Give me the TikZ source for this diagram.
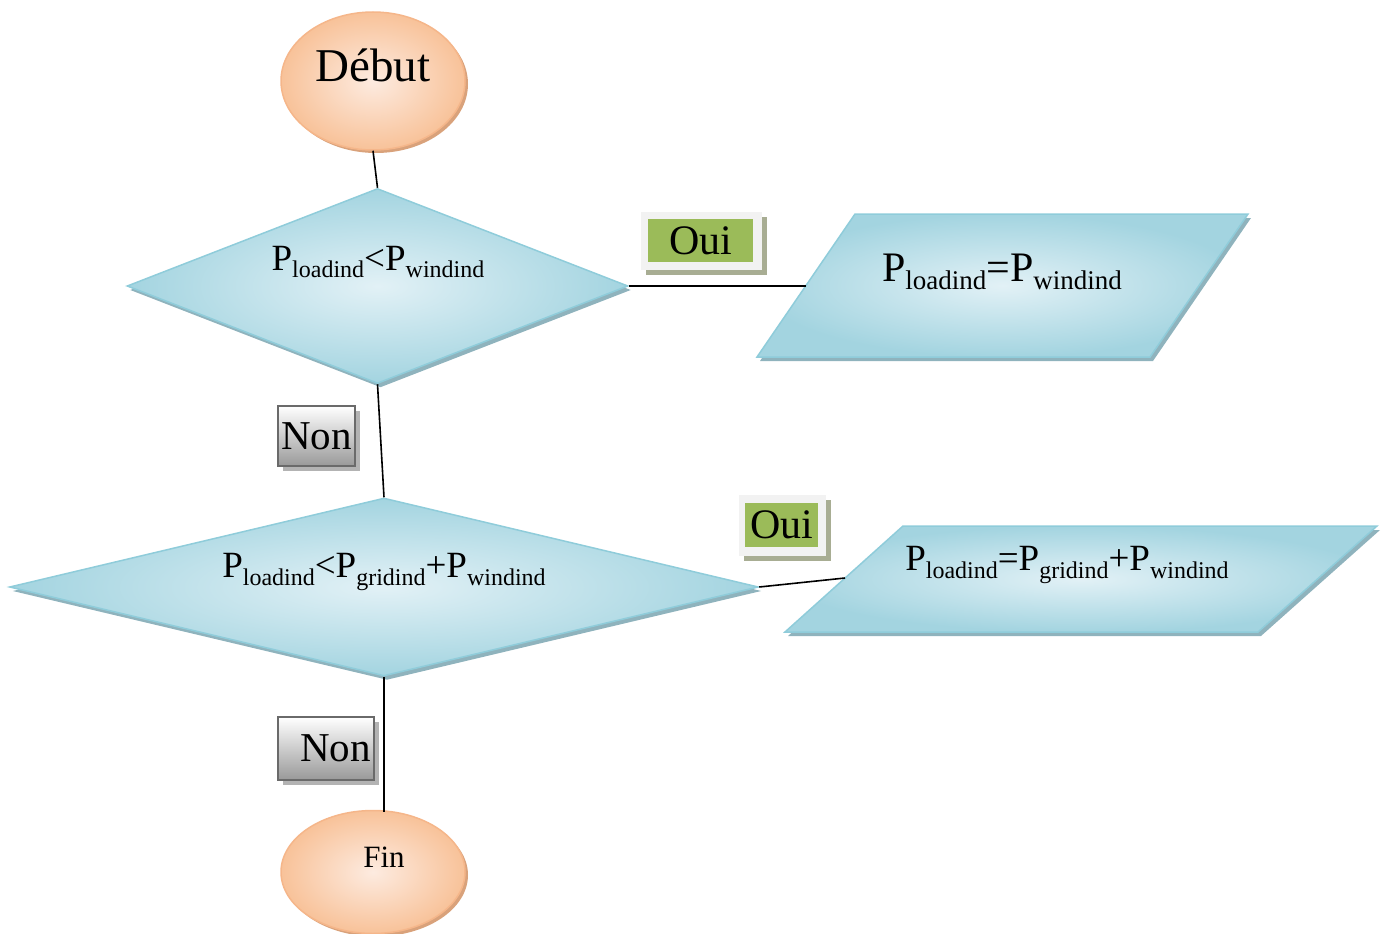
\documentclass[tikz,border=0pt]{standalone}
\usepackage{fontspec}
\setmainfont{Liberation Serif}
\usetikzlibrary{shapes.geometric,shadows,calc}

\definecolor{termin}{HTML}{FDEBE0}
\definecolor{termout}{HTML}{F8C299}
\definecolor{termedge}{HTML}{F5B68A}
\definecolor{termshadow}{HTML}{D9A27B}
\definecolor{decin}{HTML}{E2F1F6}
\definecolor{decout}{HTML}{A3D4E0}
\definecolor{decedge}{HTML}{8FCCDA}
\definecolor{decshadow}{HTML}{8FB3BD}
\definecolor{ouigreen}{HTML}{9BBB59}
\definecolor{ouiframe}{HTML}{F2F2F2}
\definecolor{ouishadow}{HTML}{A8AD93}
\definecolor{nonedge}{HTML}{6A6A6A}
\definecolor{nonbottom}{HTML}{999999}
\definecolor{nonshadow}{HTML}{B3B3B3}

% subscript: size, then text
\newcommand\sbx[2]{\raisebox{-0.3\dimexpr#1pt\relax}{\fontsize{#1}{#1}\selectfont #2}}
\newcommand\fsz[1]{\fontsize{#1}{#1}\selectfont}

\begin{document}
\begin{tikzpicture}[x=1pt,y=-1pt,
  conn/.style={draw=black,line width=1.6pt},
  term/.style={ellipse, draw=termedge, line width=1.5pt, inner color=termin,
    outer color=termout, minimum width=184pt, minimum height=138pt, inner sep=0pt,
    drop shadow={shadow xshift=3pt,shadow yshift=-3pt,fill=termshadow,opacity=1}},
  decision/.style={diamond, draw=decedge, line width=1.5pt, inner color=decin,
    outer color=decout, inner sep=0pt,
    drop shadow={shadow xshift=3pt,shadow yshift=-4pt,fill=decshadow,opacity=1}},
  iobox/.style={draw=decedge, line width=1.5pt, inner color=decin, outer color=decout,
    drop shadow={shadow xshift=3pt,shadow yshift=-4pt,fill=decshadow,opacity=1}},
  ouiback/.style={rectangle, fill=ouiframe, inner sep=0pt,
    drop shadow={shadow xshift=5pt,shadow yshift=-5pt,fill=ouishadow,opacity=1}},
  ouitag/.style={rectangle, fill=ouigreen, inner sep=0pt, font=\fsz{42}},
  nontag/.style={rectangle, draw=nonedge, line width=2.5pt, top color=white,
    bottom color=nonbottom, inner sep=0pt, font=\fsz{41},
    drop shadow={shadow xshift=5pt,shadow yshift=-5pt,fill=nonshadow,opacity=1}},
  lbl/.style={inner sep=0pt, anchor=center}
]
\useasboundingbox (0,0) rectangle (1384,934);

% start and end terminals
\node[term] (deb) at (373,81) {};
\node[lbl, font=\fsz{47}] (debt) at (373,65) {Début};
\node[term, minimum height=123pt] (fin) at (373,872) {};
\node[lbl, font=\fsz{31}] (fint) at (384,857) {Fin};

% decisions
\node[decision, minimum width=501pt, minimum height=195pt] (d1) at (377.5,286) {};
\node[lbl, font=\fsz{37}] (d1t) at (378,262)
  {P\sbx{24}{loadind}<P\sbx{24}{windind}};
\node[decision, minimum width=749pt, minimum height=178pt] (d2) at (384,587) {};
\node[lbl, font=\fsz{37}] (d2t) at (384,572)
  {P\sbx{24}{loadind}<P\sbx{24}{gridind}+P\sbx{24}{windind}};

% assignments (parallelograms)
\path[iobox] (855,214) -- (1248,214) -- (1150,357) -- (757,357) -- cycle;
\coordinate (p1w) at (806,286);
\node[lbl, font=\fsz{42}] (p1t) at (1002,272)
  {P\sbx{27}{loadind}=P\sbx{27}{windind}};
\path[iobox] (903,526) -- (1377,526) -- (1258,632) -- (785,632) -- cycle;
\coordinate (p2w) at (845,578);
\node[lbl, font=\fsz{37}] (p2t) at (1067,565)
  {P\sbx{24}{loadind}=P\sbx{24}{gridind}+P\sbx{24}{windind}};

% connectors
\coordinate (fintop) at (384,812);
\draw[conn] (deb.south) -- (d1.north);
\draw[conn] (d1.east) -- (p1w);
\draw[conn] (d1.south) -- (d2.north);
\draw[conn] (d2.east) -- (p2w);
\draw[conn] (d2.south) -- (fintop);

% branch tags
\node[ouiback, minimum width=121pt, minimum height=58pt] (oui1b) at (701.5,241) {};
\node[ouitag, minimum width=105pt, minimum height=43pt] (oui1) at (700.5,240.5) {Oui};
\node[ouiback, minimum width=87pt, minimum height=61pt] (oui2b) at (782.5,525.5) {};
\node[ouitag, minimum width=73pt, minimum height=44pt] (oui2) at (781.5,525) {Oui};
\node[nontag, minimum width=77pt, minimum height=60pt] (non1) at (316.5,436) {Non};
\node[nontag, minimum width=96pt, minimum height=63pt, text width=90pt, align=right]
  (non2) at (326,748.5) {Non};
\end{tikzpicture}
\end{document}
